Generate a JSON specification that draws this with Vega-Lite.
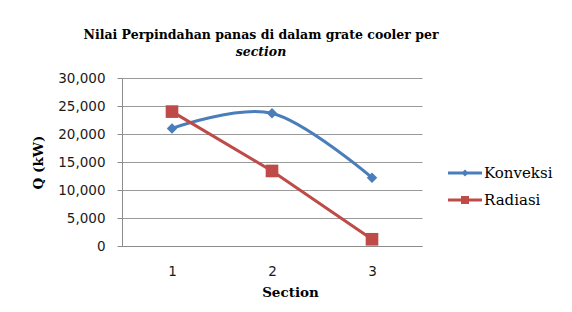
{
  "$schema": "https://vega.github.io/schema/vega-lite/v6.json",
  "width": 300,
  "height": 168,
  "autosize": {"type": "none"},
  "padding": {"left": 122, "top": 78, "right": 150, "bottom": 66},
  "background": "white",
  "config": {"view": {"stroke": null}},
  "title": {
    "text": "Nilai Perpindahan panas di dalam grate cooler per",
    "subtitle": "section",
    "font": "DejaVu Serif",
    "fontSize": 12.5,
    "fontWeight": "bold",
    "color": "black",
    "subtitleFont": "DejaVu Serif",
    "subtitleFontSize": 12.5,
    "subtitleFontWeight": "bold",
    "subtitleFontStyle": "italic",
    "subtitleColor": "black",
    "subtitlePadding": 5,
    "anchor": "middle",
    "frame": "group",
    "dx": -11,
    "offset": 12.5
  },
  "data": {
    "values": [
      {"section": "1", "series": "Konveksi", "q": 21000},
      {"section": "2", "series": "Konveksi", "q": 23700},
      {"section": "3", "series": "Konveksi", "q": 12200},
      {"section": "1", "series": "Radiasi", "q": 24000},
      {"section": "2", "series": "Radiasi", "q": 13400},
      {"section": "3", "series": "Radiasi", "q": 1200}
    ]
  },
  "encoding": {
    "x": {
      "field": "section",
      "type": "ordinal",
      "scale": {"type": "point", "padding": 0.5},
      "axis": {
        "title": "Section",
        "titleFont": "DejaVu Serif",
        "titleFontSize": 13.5,
        "titleFontWeight": "bold",
        "titleColor": "black",
        "titleX": 168,
        "titleY": 46,
        "titleAlign": "center",
        "titleBaseline": "middle",
        "labelAngle": 0,
        "labelFont": "DejaVu Sans",
        "labelFontSize": 13.5,
        "labelColor": "#1a1a1a",
        "labelPadding": 18,
        "ticks": false,
        "grid": false,
        "domainColor": "#8c8c8c"
      }
    },
    "y": {
      "field": "q",
      "type": "quantitative",
      "scale": {"domain": [0, 30000]},
      "axis": {
        "title": "Q (kW)",
        "titleFont": "DejaVu Serif",
        "titleFontSize": 13.5,
        "titleFontWeight": "bold",
        "titleColor": "black",
        "titleAngle": -90,
        "titleX": -84,
        "titleY": 84,
        "titleAlign": "center",
        "titleBaseline": "middle",
        "values": [0, 5000, 10000, 15000, 20000, 25000, 30000],
        "format": ",d",
        "labelFont": "DejaVu Sans",
        "labelFontSize": 13.5,
        "labelColor": "#1a1a1a",
        "labelPadding": 12,
        "tickSize": 5,
        "tickColor": "#8c8c8c",
        "domainColor": "#8c8c8c",
        "gridColor": "#9a9a9a"
      }
    },
    "color": {
      "field": "series",
      "type": "nominal",
      "scale": {"domain": ["Konveksi", "Radiasi"], "range": ["#4A7EBB", "#BE4B48"]},
      "legend": {
        "orient": "none",
        "legendX": 335,
        "legendY": 87,
        "title": null,
        "padding": 0,
        "symbolSize": 256,
        "symbolType": "M-2.125,-0.1875H2.125V0.1875H-2.125Z",
        "labelFont": "DejaVu Serif",
        "labelFontSize": 15,
        "labelColor": "black",
        "labelOffset": 11,
        "rowPadding": 11,
        "encode": {
          "symbols": {
            "update": {
              "shape": {"signal": "datum.value === 'Konveksi' ? 'M-2.125,-0.1875H2.125V0.1875H-2.125Z M0,-0.45L0.45,0L0,0.45L-0.45,0Z' : 'M-2.125,-0.1875H2.125V0.1875H-2.125Z M-0.5,-0.5H0.5V0.5H-0.5Z'"},
              "fill": {"signal": "datum.value === 'Konveksi' ? '#4A7EBB' : '#BE4B48'"},
              "fillOpacity": {"value": 1},
              "opacity": {"value": 1},
              "strokeWidth": {"value": 0}
            }
          }
        }
      }
    }
  },
  "layer": [
    {
      "transform": [{"filter": "datum.series === 'Konveksi'"}],
      "mark": {"type": "line", "interpolate": "cardinal", "strokeWidth": 3, "point": {"shape": "diamond", "size": 110, "filled": true, "opacity": 1}}
    },
    {
      "transform": [{"filter": "datum.series === 'Radiasi'"}],
      "mark": {"type": "line", "strokeWidth": 3, "point": {"shape": "square", "size": 160, "filled": true, "opacity": 1}}
    }
  ]
}
